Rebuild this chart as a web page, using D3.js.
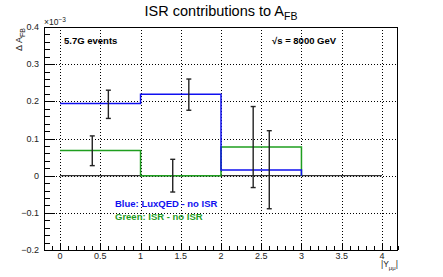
<!DOCTYPE html>
<html><head><meta charset="utf-8">
<script src="https://cdn.jsdelivr.net/npm/d3@7"></script>
<style>body{margin:0;background:#fff}svg{display:block;font-family:"Liberation Sans",Arial,sans-serif}</style>
</head><body>
<svg id="c" width="443" height="277"></svg>
<script>
const binEdges = [0, 1, 2, 3];
const blueVals = [0.194, 0.219, 0.015];
const greenVals = [0.068, 0.0, 0.077];
const errX = [0.4, 0.6, 1.4, 1.6, 2.4, 2.6];
const errY = [0.067, 0.192, 0.0, 0.218, 0.077, 0.016];
const errE = [0.040, 0.038, 0.044, 0.042, 0.109, 0.105];
const xTicks = [0, 0.5, 1, 1.5, 2, 2.5, 3, 3.5, 4];
const yTicks = [-0.2, -0.1, 0, 0.1, 0.2, 0.3, 0.4];
const xTickLabels = ["0", "0.5", "1", "1.5", "2", "2.5", "3", "3.5", "4"];
const yTickLabels = ["\u22120.2", "\u22120.1", "0", "0.1", "0.2", "0.3", "0.4"];

const svg = d3.select("#c");
const L = 44, R = 398, T = 27, B = 250;
const x = d3.scaleLinear().domain([-0.2, 4.2]).range([L, R]);
const y = d3.scaleLinear().domain([-0.2, 0.4]).range([B, T]);

// grid
const g = svg.append("g");
g.selectAll(".gx").data(xTicks).join("line")
  .attr("x1", d => Math.round(x(d)) + 0.5).attr("x2", d => Math.round(x(d)) + 0.5)
  .attr("y1", T).attr("y2", B).attr("stroke", "#000").attr("stroke-width", 1).attr("stroke-dasharray", "1,2");
g.selectAll(".gy").data(yTicks).join("line")
  .attr("y1", d => Math.round(y(d)) + 0.5).attr("y2", d => Math.round(y(d)) + 0.5)
  .attr("x1", L).attr("x2", R).attr("stroke", "#000").attr("stroke-width", 1).attr("stroke-dasharray", "1,2");

// zero line
svg.append("line").attr("x1", x(0)).attr("x2", x(4)).attr("y1", y(0)).attr("y2", y(0))
  .attr("stroke", "#333").attr("stroke-width", 1.3);

function stepPath(vals) {
  const p = d3.path();
  vals.forEach((v, i) => {
    const x0 = x(binEdges[i]), x1 = x(binEdges[i] + 1);
    if (i === 0) p.moveTo(x0, y(v)); else p.lineTo(x0, y(v));
    p.lineTo(x1, y(v));
  });
  p.lineTo(x(binEdges[binEdges.length - 1]), y(0));
  return p.toString();
}
svg.append("path").attr("d", stepPath(greenVals)).attr("fill", "none").attr("stroke", "#1f9e1f").attr("stroke-width", 1.5);
svg.append("path").attr("d", stepPath(blueVals)).attr("fill", "none").attr("stroke", "#1010f0").attr("stroke-width", 1.5);

// error bars
const eb = svg.append("g").attr("stroke", "#222").attr("stroke-width", 1.4);
errX.forEach((xv, i) => {
  const cx = x(xv), y0 = y(errY[i] - errE[i]), y1 = y(errY[i] + errE[i]);
  eb.append("line").attr("x1", cx).attr("x2", cx).attr("y1", y0).attr("y2", y1);
  eb.append("line").attr("x1", cx - 2.5).attr("x2", cx + 2.5).attr("y1", y0).attr("y2", y0);
  eb.append("line").attr("x1", cx - 2.5).attr("x2", cx + 2.5).attr("y1", y1).attr("y2", y1);
});

// frame
svg.append("rect").attr("x", L + 0.5).attr("y", T + 0.5).attr("width", R - L - 1).attr("height", B - T)
  .attr("fill", "none").attr("stroke", "#000").attr("stroke-width", 1);

// axis ticks
const ax = svg.append("g").attr("stroke", "#000").attr("stroke-width", 1);
d3.range(-0.2, 0.4001, 0.02).forEach(v => {
  const major = Math.abs(Math.round(v * 10) - v * 10) < 1e-6;
  const yy = Math.round(y(v)) + 0.5;
  ax.append("line").attr("x1", L).attr("x2", L + (major ? 11 : 6)).attr("y1", yy).attr("y2", yy);
});
d3.range(-0.2, 4.2001, 0.1).forEach(v => {
  const major = Math.abs(Math.round(v * 2) - v * 2) < 1e-6;
  const xx = Math.round(x(v)) + 0.5;
  ax.append("line").attr("x1", xx).attr("x2", xx).attr("y1", B).attr("y2", B - (major ? 7 : 4));
});

// tick labels
svg.selectAll(".yl").data(yTicks).join("text")
  .attr("x", 39).attr("y", d => y(d) + 3).attr("text-anchor", "end")
  .attr("font-size", 9).attr("fill", "#222").text((d, i) => yTickLabels[i]);
svg.selectAll(".xl").data(xTicks).join("text")
  .attr("x", d => x(d)).attr("y", 258.5).attr("text-anchor", "middle")
  .attr("font-size", 9).attr("fill", "#222").text((d, i) => xTickLabels[i]);

// exponent
const ex = svg.append("text").attr("x", 44).attr("y", 25).attr("font-size", 8.5).attr("fill", "#222");
ex.append("tspan").text("\u00d710");
ex.append("tspan").attr("dy", -3).attr("font-size", 6.5).text("\u22123");

// axis titles
const yt = svg.append("text").attr("transform", "translate(22,28) rotate(-90)").attr("text-anchor", "end")
  .attr("font-size", 9).attr("fill", "#222");
yt.append("tspan").text("\u0394 A");
yt.append("tspan").attr("dy", 2.5).attr("font-size", 7).text("FB");

const xt = svg.append("text").attr("x", 398).attr("y", 267).attr("text-anchor", "end").attr("font-size", 8.5).attr("fill", "#222");
xt.append("tspan").text("|Y");
xt.append("tspan").attr("dy", 2.5).attr("font-size", 6).text("\u03bc\u03bc");
xt.append("tspan").attr("dy", -2.5).text("|");

// title
const tt = svg.append("text").attr("x", 221).attr("y", 16).attr("text-anchor", "middle").attr("font-size", 14.5).attr("fill", "#000");
tt.append("tspan").text("ISR contributions to A");
tt.append("tspan").attr("dy", 3.5).attr("font-size", 10.5).text("FB");

// annotations
svg.append("text").attr("x", 64).attr("y", 44).attr("font-size", 9.5).attr("font-weight", "bold").text("5.7G events");
const rs = svg.append("text").attr("x", 272).attr("y", 44).attr("font-size", 9.5).attr("font-weight", "bold");
rs.append("tspan").text("\u221as = 8000 GeV");

svg.append("text").attr("x", 115).attr("y", 207).attr("font-size", 9.5).attr("font-weight", "bold").attr("fill", "#1010f0").text("Blue: LuxQED - no ISR");
svg.append("text").attr("x", 115).attr("y", 219.5).attr("font-size", 9.5).attr("font-weight", "bold").attr("fill", "#1f9e1f").text("Green: ISR - no ISR");
</script>
</body></html>
